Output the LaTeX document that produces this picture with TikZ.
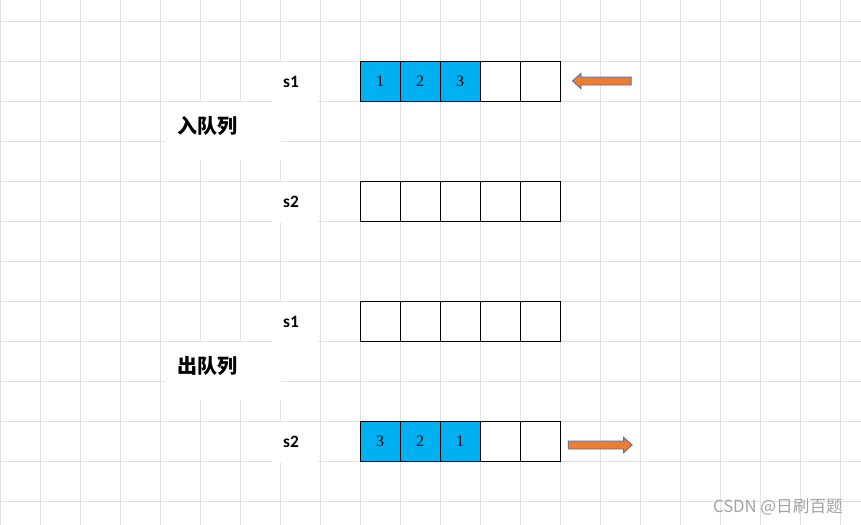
\documentclass[tikz,border=0pt]{standalone}
\usepackage{fontspec}
\setmainfont{Liberation Serif}
\setsansfont{Carlito}
\newfontfamily\cjk{Noto Sans CJK SC}
\usetikzlibrary{positioning,shapes.arrows}
\definecolor{gridgray}{HTML}{E1E1E1}
\definecolor{cyanfill}{HTML}{00B0F0}
\definecolor{orangefill}{HTML}{ED7D31}
\definecolor{arrowblue}{HTML}{4A6FB5}
\definecolor{markgray}{HTML}{A3A3A3}
\tikzset{cell/.style={draw=black,line width=0.75pt,minimum size=30pt,inner sep=0pt,outer sep=0pt,font=\rmfamily\fontsize{12}{14}\selectfont},used/.style={cell,fill=cyanfill},stk/.style={font=\sffamily\bfseries\fontsize{13}{15}\selectfont,inner sep=0pt},ttl/.style={font=\cjk\bfseries\fontsize{15}{17}\selectfont,inner sep=0pt},move/.style={single arrow,draw=arrowblue,fill=orangefill,line width=0.6pt,inner xsep=0pt,inner ysep=2.7pt,single arrow head extend=2.8pt,single arrow tip angle=84}}

\begin{document}
\begin{tikzpicture}[x=0.75pt,y=-0.75pt]
\useasboundingbox (0,0) rectangle (861,525);
\foreach \x in {0,40,...,840} \draw[gridgray,line width=0.75pt] (\x,0)--(\x,525);
\foreach \y in {21,61,...,501} \draw[gridgray,line width=0.75pt] (0,\y)--(861,\y);
% white patches behind the labels
\fill[white] (272,62) rectangle (318,103);\fill[white] (272,182) rectangle (318,223);
\fill[white] (272,302) rectangle (318,343);\fill[white] (272,422) rectangle (318,463);
\fill[white] (165,102) rectangle (281,160);\fill[white] (165,342) rectangle (281,400);
\node[ttl] (enq) at (207,126) {入队列};
\node[ttl] (deq) at (207,366) {出队列};
\node[stk] (la) at (291,82) {s1};
\node[stk] (lb) at (291,202) {s2};
\node[stk] (lc) at (291,322) {s1};
\node[stk] (ld) at (291,442) {s2};
% push: s1 holds 1 2 3
\node[used] (pa1) at (380,81) {1};\node[used,right=0pt of pa1] (pa2) {2};\node[used,right=0pt of pa2] (pa3) {3};
\node[cell,right=0pt of pa3] (pa4) {};\node[cell,right=0pt of pa4] (pa5) {};
\node[cell] (pb1) at (380,201) {};\node[cell,right=0pt of pb1] (pb2) {};\node[cell,right=0pt of pb2] (pb3) {};
\node[cell,right=0pt of pb3] (pb4) {};\node[cell,right=0pt of pb4] (pb5) {};
% pop: s2 holds 3 2 1
\node[cell] (oa1) at (380,321) {};\node[cell,right=0pt of oa1] (oa2) {};\node[cell,right=0pt of oa2] (oa3) {};
\node[cell,right=0pt of oa3] (oa4) {};\node[cell,right=0pt of oa4] (oa5) {};
\node[used] (ob1) at (380,441) {3};\node[used,right=0pt of ob1] (ob2) {2};\node[used,right=0pt of ob2] (ob3) {1};
\node[cell,right=0pt of ob3] (ob4) {};\node[cell,right=0pt of ob4] (ob5) {};
\node[move,minimum height=44pt,shape border rotate=180] (inarr) at (604,81) {};
\node[move,minimum height=48pt] (outarr) at (598,445) {};
\node[font=\cjk\fontsize{12.5}{14}\selectfont,text=markgray,inner sep=0pt] (mark) at (778,507) {CSDN @日刷百题};
\end{tikzpicture}
\end{document}
